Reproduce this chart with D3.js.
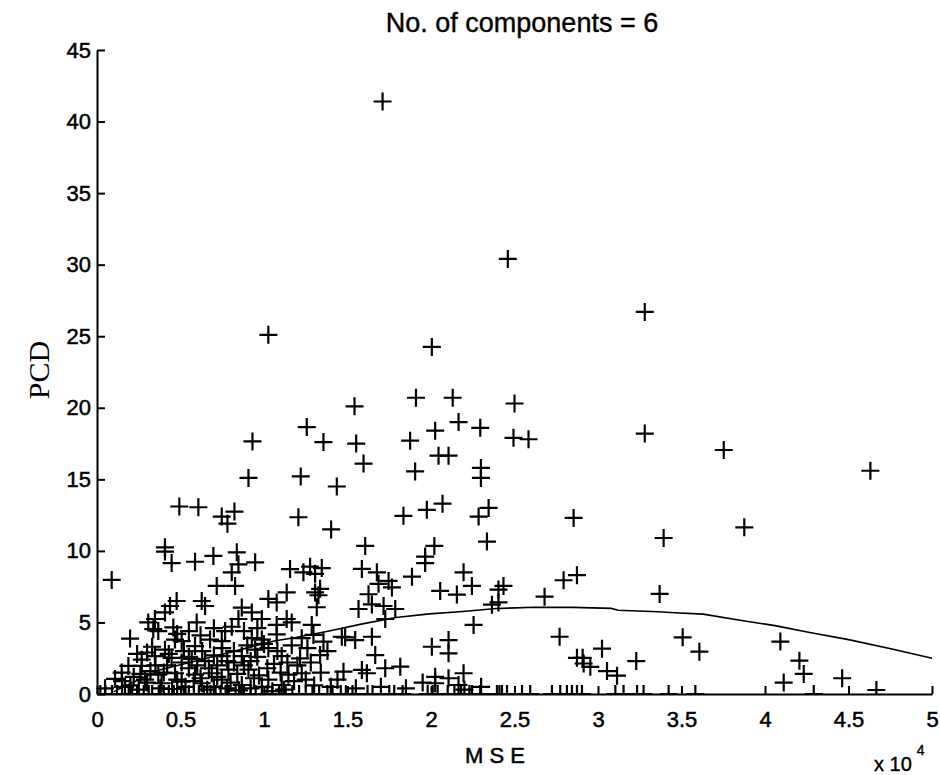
<!DOCTYPE html>
<html>
<head>
<meta charset="utf-8">
<script src="https://cdn.jsdelivr.net/npm/d3@7"></script>
<style>
  html, body { margin: 0; padding: 0; background: #fff; }
  svg { display: block; }
</style>
</head>
<body>
<svg id="chart" width="940" height="775"></svg>
<script>
// ---------------- DATA (MSE in units of 1e4, PCD) ----------------
const title = "No. of components = 6";
const xLabel = "M S E";
const yLabel = "PCD";
const xTicks = [0, 0.5, 1, 1.5, 2, 2.5, 3, 3.5, 4, 4.5, 5];
const yTicks = [0, 5, 10, 15, 20, 25, 30, 35, 40, 45];

// scattered points, upper region
const ptsUpper = [
  [1.71,41.4],[2.46,30.4],[3.28,26.7],[1.026,25.1],[2.005,24.25],[1.91,20.7],[2.13,20.7],
  [2.50,20.3],[1.542,20.1],[2.165,19.0],[1.256,18.65],[2.295,18.6],[2.025,18.4],[3.28,18.2],
  [2.494,17.9],[2.584,17.8],[1.875,17.7],[0.931,17.65],[1.356,17.6],[1.552,17.5],[3.753,17.05],
  [2.045,16.65],[2.105,16.65],[1.596,16.1],[2.299,15.8],[4.631,15.6],[1.905,15.55],[1.22,15.2],
  [0.907,15.1],[2.299,15.1],[1.436,14.5],[2.069,13.3],[0.493,13.1],[0.607,13.05],[2.345,13.0],
  [1.975,12.87],[0.823,12.75],[1.835,12.45],[0.747,12.4],[2.285,12.4],[1.206,12.35],[2.854,12.3],
  [0.781,11.9],[3.876,11.65],[1.402,11.5],[3.393,10.9],[2.335,10.65],[1.606,10.35],[2.02,10.35],
  [0.407,10.25],[0.407,9.95],[0.837,9.9],[0.697,9.65],[1.965,9.6]
];
// dense lower-left region
const ptsLowLeft = [
  [0.088,7.97],[0.447,9.15],[0.587,9.24],[0.847,9.06],[0.947,9.2],[1.156,8.73],[0.807,8.5],
  [0.827,7.55],[0.717,7.55],[1.136,7.1],[0.627,6.5],[0.647,6.15],[0.477,6.5],[0.437,6.15],
  [0.407,5.7],[0.347,5.24],[0.307,5.0],[0.337,4.53],[0.367,4.4],[0.457,4.65],[0.597,5.0],
  [0.198,3.87],[0.467,3.8],[0.507,3.7],[0.867,6.04],[0.927,5.7],[0.847,5.24],[0.987,5.24],
  [1.026,6.64],[1.076,6.4],[1.136,5.24],[1.076,4.83],[0.807,4.7],[0.767,4.4],[0.747,3.7],
  [0.677,3.8],[0.587,3.35],[0.927,3.9],[0.987,3.8],[1.076,4.16],[1.166,5.0],[0.407,3.1],
  [0.347,2.65],[0.268,2.4],[0.188,1.96],[0.268,1.96],[0.148,1.5],[0.108,1.05],[0.447,2.53],
  [0.507,2.2],[0.567,2.45],[0.647,2.3],[0.747,2.65],[0.867,2.65],[0.947,3.1],[1.026,3.2],
  [1.106,2.65],[1.166,3.4],[1.146,1.35],[1.026,1.0],[0.907,1.7],[0.787,1.7],[0.687,1.45],
  [0.587,1.35],[0.467,1.45],[0.367,1.35],[0.287,1.0],[0.387,0.75],[0.507,0.86],[0.627,0.75],
  [0.747,1.0],[0.867,0.63],[0.987,0.5],[1.106,0.63],[0.048,0.4],[0.168,0.5],
  [0.22,1.2],[0.32,1.6],[0.42,2.0],[0.55,1.8],[0.62,1.1],[0.72,2.0],[0.82,2.2],[0.92,2.3],
  [0.97,1.3],[1.06,2.1],[0.25,0.3],[0.45,0.35],[0.66,0.3],[0.85,0.25],[1.05,0.2],
  [0.30,0.8],[0.35,2.0],[0.40,1.5],[0.43,2.8],[0.48,1.0],[0.52,3.0],[0.55,2.6],[0.58,0.9],
  [0.60,2.0],[0.63,3.0],[0.67,1.8],[0.70,2.7],[0.72,1.2],[0.75,3.2],[0.78,2.3],[0.80,0.8],
  [0.82,3.0],[0.84,1.4],[0.88,2.0],[0.90,3.4],[0.94,1.1],[0.96,2.6],[1.00,3.5],[1.02,1.8],
  [1.08,3.0],[1.10,1.5],[1.14,2.2],[1.18,0.9],[0.15,0.9],[0.20,0.6],[0.26,1.4],[0.30,2.9],
  [0.38,0.4],[0.53,0.5],[0.70,0.5],[0.78,0.4],[0.92,0.4],[1.12,0.3],[0.33,3.3],[0.48,4.2],
  [0.62,4.1],[0.70,4.6],[0.88,4.4],[0.96,4.6],[0.55,4.4],[0.24,2.8]
];
// dense lower-middle region
const ptsLowMid = [
  [1.276,8.9],[1.346,8.8],[1.236,8.5],[1.306,8.4],[1.336,7.35],[1.306,7.1],[1.326,6.9],
  [1.586,8.74],[1.676,8.5],[1.746,7.9],[1.766,7.45],[1.686,7.7],[1.886,8.2],[1.965,9.15],
  [2.195,8.5],[2.245,7.55],[2.055,7.2],[2.155,6.95],[2.365,6.24],[1.626,6.97],[1.646,6.26],
  [1.716,6.15],[1.786,5.94],[1.566,5.94],[1.726,5.24],[2.255,4.83],[1.316,6.06],[1.286,4.83],
  [1.296,4.13],[1.356,3.66],[1.226,3.9],[1.466,4.0],[1.486,3.96],[1.546,3.77],[1.646,4.0],
  [1.666,2.72],[2.005,3.3],[2.105,3.77],[2.105,2.84],[1.336,2.72],[1.216,2.49],[1.476,1.56],
  [1.586,1.68],[1.616,1.45],[1.726,1.8],[1.816,1.91],[1.226,1.45],[2.025,1.2],[2.105,1.1],
  [2.195,1.45],[2.165,0.63],[2.025,0.75],[1.25,1.0],[1.30,0.6],
  [1.20,2.0],[1.28,2.2],[1.40,0.5],[1.44,1.0],[1.55,0.4],[1.70,0.5],[1.85,0.4],[1.95,0.8],
  [2.20,0.3],[2.30,0.5],[1.26,3.2],[1.34,1.5],[1.38,3.0]
];
// right region
const ptsRight = [
  [2.434,7.55],[2.404,7.3],[2.404,6.4],[2.68,6.8],[2.794,7.95],[2.874,8.3],[3.369,6.99],
  [2.77,4.0],[3.024,3.17],[2.874,2.53],[2.908,2.53],[2.914,2.13],[2.954,1.9],[3.054,1.6],
  [3.114,1.28],[3.229,2.3],[3.507,3.96],[3.607,2.96],[4.092,3.66],[4.206,2.33],[4.232,1.4],
  [4.112,0.8],[4.462,1.1],[4.667,0.28]
];
// points lying on PCD = 0 (MSE values)
const zeroX = [
  0.02,0.05,0.09,0.12,0.15,0.19,0.21,0.24,0.28,0.31,0.33,0.37,0.40,0.43,0.46,0.48,0.52,
  0.55,0.58,0.61,0.64,0.68,0.71,0.74,0.77,0.79,0.83,0.86,0.88,0.92,0.95,0.99,1.02,1.05,
  1.09,1.13,1.17,1.21,1.25,1.29,1.33,1.38,1.41,1.46,1.49,1.53,1.62,1.65,1.75,1.78,1.83,
  1.98,2.01,2.04,2.10,2.14,2.18,2.23,2.245,2.295,2.395,2.41,2.425,2.455,2.545,2.594,
  2.724,2.774,2.814,2.844,2.874,2.904,3.104,3.153,3.234,3.273,3.423,3.583,4.292
];
// fitted curve
const curveX = [0.10,0.14,0.38,0.62,0.86,1.06,1.19,1.39,1.59,1.79,1.99,2.19,2.39,2.62,2.85,3.08,3.12,3.36,3.46,3.63,3.86,4.06,4.26,4.50,4.76,5.00];
const curveY = [0.15,0.4,1.7,2.4,3.1,3.7,3.95,4.4,4.9,5.35,5.6,5.76,5.97,6.06,6.05,5.98,5.85,5.75,5.68,5.58,5.13,4.78,4.31,3.8,3.15,2.5];

// ---------------- DRAW ----------------
const SANS = "'Liberation Sans', Arial, sans-serif";
const SERIF = "'Liberation Serif', 'Times New Roman', serif";
const svg = d3.select("#chart");
const L = 97, R = 932, T = 50, B = 694;
const x = d3.scaleLinear().domain([0, 5]).range([L, R]);
const y = d3.scaleLinear().domain([0, 45]).range([B, T]);

const points = [].concat(ptsUpper, ptsLowLeft, ptsLowMid, ptsRight, zeroX.map(v => [v, 0]));

svg.append("defs").append("clipPath").attr("id", "plotclip")
  .append("rect").attr("x", L).attr("y", T - 10).attr("width", R - L + 10).attr("height", B - T + 10);

const plot = svg.append("g").attr("clip-path", "url(#plotclip)");

const arm = 9;
plot.append("g").selectAll("path").data(points).join("path")
  .attr("d", d => {
    const cx = x(d[0]), cy = y(d[1]);
    return `M${cx - arm},${cy}H${cx + arm}M${cx},${cy - arm}V${cy + arm}`;
  })
  .attr("stroke", "#000").attr("stroke-width", 2.2).attr("fill", "none");

const line = d3.line().x((d, i) => x(curveX[i])).y((d, i) => y(curveY[i]));
plot.append("path").datum(curveX).attr("d", line)
  .attr("fill", "none").attr("stroke", "#000").attr("stroke-width", 1.6);

// axes
const yAxis = d3.axisLeft(y).tickValues(yTicks).tickSizeInner(-8).tickSizeOuter(0).tickPadding(6)
  .tickFormat(d3.format("d"));
const gy = svg.append("g").attr("transform", `translate(${L},0)`).call(yAxis);
const xAxis = d3.axisBottom(x).tickValues(xTicks).tickSizeInner(-8).tickSizeOuter(0).tickPadding(17)
  .tickFormat(d => String(d));
const gx = svg.append("g").attr("transform", `translate(0,${B})`).call(xAxis);

[gx, gy].forEach(g => {
  g.attr("font-family", null).attr("font-size", null);
  g.selectAll("path.domain").attr("stroke", "#000").attr("stroke-width", 2);
  g.selectAll(".tick line").attr("stroke", "#000").attr("stroke-width", 2);
  g.selectAll(".tick text").style("font-family", SANS).style("font-size", "22px")
    .attr("fill", "#000").attr("stroke", "#000").attr("stroke-width", 0.5);
});

// title
svg.append("text").attr("x", 522).attr("y", 32).attr("text-anchor", "middle")
  .style("font-family", SANS).style("font-size", "27px")
  .attr("stroke", "#000").attr("stroke-width", 0.4).text(title);

// x label
svg.append("text").attr("x", 495).attr("y", 763).attr("text-anchor", "middle")
  .style("font-family", SANS).style("font-size", "22px")
  .attr("stroke", "#000").attr("stroke-width", 0.5).text(xLabel);

// x10^4 exponent
const ex = svg.append("text").attr("x", 874).attr("y", 771)
  .style("font-family", SANS).style("font-size", "20px")
  .attr("stroke", "#000").attr("stroke-width", 0.4);
ex.append("tspan").text("x 10");
ex.append("tspan").attr("dx", 5).attr("dy", -16).style("font-size", "14px").text("4");

// y label
svg.append("text").attr("transform", "translate(49,370) rotate(-90)")
  .attr("text-anchor", "middle")
  .style("font-family", SERIF).style("font-size", "30px").text(yLabel);
</script>
</body>
</html>
